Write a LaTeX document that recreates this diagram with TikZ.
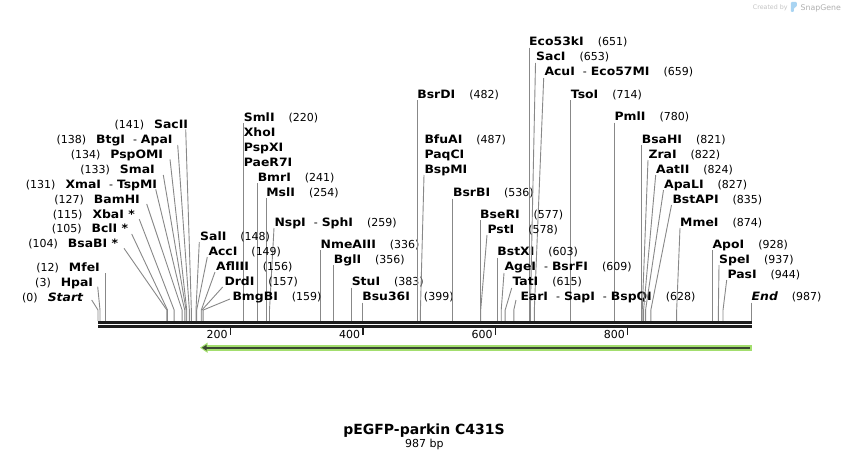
\documentclass[tikz,border=0pt]{standalone}
\usepackage{fontspec}
\setmainfont{DejaVu Sans}
\newfontfamily\nmfont[FakeStretch=1.08]{DejaVu Sans Bold}
\newfontfamily\nmitfont[FakeStretch=1.08]{DejaVu Sans Bold Oblique}
\newfontfamily\ttlfont{DejaVu Sans Bold}
\usetikzlibrary{arrows.meta}
\definecolor{linegray}{HTML}{888888}
\definecolor{bardark}{HTML}{1E1E1E}
\definecolor{featgreen}{HTML}{A3DE6E}
\definecolor{featdark}{HTML}{3A4632}
\definecolor{wmgray}{HTML}{C4C4C4}
\definecolor{wmblue}{HTML}{A9D4F2}
\newcommand\nm[1]{{\nmfont\fontsize{11.5}{13}\selectfont #1}}
\newcommand\nmi[1]{{\nmitfont\fontsize{11.5}{13}\selectfont #1}}
\newcommand\ps[1]{{\fontsize{11}{13}\selectfont #1}}
\newcommand\gapR{\hspace{14pt}}
\newcommand\gapL{\hspace{10pt}}
\newcommand\sepd{\hspace{8pt}\ps{-}\hspace{4pt}}
\newcommand\sx[1]{98+#1*0.6621}
\tikzset{
  cutline/.style={draw=linegray, line width=0.9pt},
  lblR/.style={anchor=base west, inner sep=0pt},
  lblL/.style={anchor=base east, inner sep=0pt},
}
% vertical connector: name, pos, ycenter, text
\newcommand\vsite[4]{%
  \node[lblR] (#1) at ({\sx{#2}},#3+4) {#4};
  \coordinate (#1-a) at ({\sx{#2}},#3+6);
  \coordinate (#1-s) at ({\sx{#2}},321);
  \draw[cutline] (#1-a) -- (#1-s);}
% slanted connector, label to the right: name,pos,leftx,yc,ax,ay,text
\newcommand\rsite[7]{%
  \node[lblR] (#1) at (#3,#4+4) {#7};
  \coordinate (#1-a) at (#5,#6);
  \coordinate (#1-k) at ({\sx{#2}},310);
  \coordinate (#1-s) at ({\sx{#2}},321);
  \draw[cutline] (#1-a) -- (#1-k) -- (#1-s);}
% slanted connector, label to the left: name,pos,rightx,yc,ax,ay,text
\newcommand\lsite[7]{%
  \node[lblL] (#1) at (#3,#4+4) {#7};
  \coordinate (#1-a) at (#5,#6);
  \coordinate (#1-k) at ({\sx{#2}},310);
  \coordinate (#1-s) at ({\sx{#2}},321);
  \draw[cutline] (#1-a) -- (#1-k) -- (#1-s);}
\begin{document}
\begin{tikzpicture}[x=1pt,y=-1pt]
\useasboundingbox (0,0) rectangle (850,460);
\fill[white] (0,0) rectangle (850,460);

% ---- left-side labels
\lsite{sacii}{141}{188.3}{124}{185.7}{129.3}{\ps{(141)}\gapL\nm{SacII}}
\lsite{btgi}{138}{172.7}{139}{177.7}{145}{\ps{(138)}\gapL\nm{BtgI}\sepd\nm{ApaI}}
\lsite{pspomi}{134}{163.3}{154}{170}{159.3}{\ps{(134)}\gapL\nm{PspOMI}}
\lsite{smai}{133}{155}{169}{163.3}{175}{\ps{(133)}\gapL\nm{SmaI}}
\lsite{xmai}{131}{157.3}{184}{155.7}{189.3}{\ps{(131)}\gapL\nm{XmaI}\sepd\nm{TspMI}}
\lsite{bamhi}{127}{140}{199}{146.7}{204}{\ps{(127)}\gapL\nm{BamHI}}
\lsite{xbai}{115}{135}{214}{139.3}{219.3}{\ps{(115)}\gapL\nm{XbaI *}}
\lsite{bcli}{105}{128.3}{228}{131.7}{234}{\ps{(105)}\gapL\nm{BclI *}}
\lsite{bsabi}{104}{118.3}{243}{124}{248.3}{\ps{(104)}\gapL\nm{BsaBI *}}
\node[lblL] (mfei) at (100,271) {\ps{(12)}\gapL\nm{MfeI}};
\coordinate (mfei-a) at ({\sx{12}},273);
\coordinate (mfei-s) at ({\sx{12}},321);
\draw[cutline] (mfei-a) -- (mfei-s);
\lsite{hpai}{3}{93.3}{282}{97.7}{286.7}{\ps{(3)}\gapL\nm{HpaI}}
\lsite{start}{0}{83.3}{297}{91.7}{300}{\ps{(0)}\gapL\nmi{Start}}

% ---- right-side labels, vertical connectors
\vsite{smli}{220}{117}{\nm{SmlI}\gapR\ps{(220)}}
\node[lblR] (xhoi) at ({\sx{220}},136) {\nm{XhoI}};
\node[lblR] (pspxi) at ({\sx{220}},151) {\nm{PspXI}};
\node[lblR] (paer7i) at ({\sx{220}},166) {\nm{PaeR7I}};
\draw[cutline] ({\sx{220}},168) -- (smli-s);
\vsite{bmri}{241}{177}{\nm{BmrI}\gapR\ps{(241)}}
\vsite{msli}{254}{192}{\nm{MslI}\gapR\ps{(254)}}
\vsite{nmeaiii}{336}{244}{\nm{NmeAIII}\gapR\ps{(336)}}
\vsite{bgli}{356}{259}{\nm{BglI}\gapR\ps{(356)}}
\vsite{stui}{383}{281.7}{\nm{StuI}\gapR\ps{(383)}}
\vsite{bsu36i}{399}{296.7}{\nm{Bsu36I}\gapR\ps{(399)}}
\vsite{eco53ki}{651}{41.7}{\nm{Eco53kI}\gapR\ps{(651)}}
\vsite{bsrdi}{482}{94}{\nm{BsrDI}\gapR\ps{(482)}}
\vsite{tsoi}{714}{94}{\nm{TsoI}\gapR\ps{(714)}}
\vsite{bsrbi}{536}{192.7}{\nm{BsrBI}\gapR\ps{(536)}}
\vsite{bseri}{577}{214}{\nm{BseRI}\gapR\ps{(577)}}
\vsite{bstxi}{603}{251.7}{\nm{BstXI}\gapR\ps{(603)}}
\vsite{pmli}{780}{116.7}{\nm{PmlI}\gapR\ps{(780)}}
\vsite{bsahi}{821}{139}{\nm{BsaHI}\gapR\ps{(821)}}
\vsite{apoi}{928}{244}{\nm{ApoI}\gapR\ps{(928)}}
\vsite{endl}{987}{296.7}{\nmi{End}\gapR\ps{(987)}}

% ---- right-side labels, slanted connectors
\rsite{nspi}{259}{274.3}{222}{274}{228}{\nm{NspI}\sepd\nm{SphI}\gapR\ps{(259)}}
\rsite{sali}{148}{200}{236.7}{199.3}{242}{\nm{SalI}\gapR\ps{(148)}}
\rsite{acci}{149}{208.3}{251.7}{207.3}{257}{\nm{AccI}\gapR\ps{(149)}}
\rsite{afliii}{156}{216}{266.7}{215}{272}{\nm{AflIII}\gapR\ps{(156)}}
\rsite{drdi}{157}{224.3}{281.7}{222.7}{287}{\nm{DrdI}\gapR\ps{(157)}}
\rsite{bmgbi}{159}{232.3}{296.7}{230}{299}{\nm{BmgBI}\gapR\ps{(159)}}
\rsite{saci}{653}{536}{56.7}{535.5}{63}{\nm{SacI}\gapR\ps{(653)}}
\rsite{acui}{659}{544.3}{71.7}{543.7}{78}{\nm{AcuI}\sepd\nm{Eco57MI}\gapR\ps{(659)}}
\rsite{bfuai}{487}{424.3}{139}{424}{175}{\nm{BfuAI}\gapR\ps{(487)}}
\node[lblR] (paqci) at (424.3,158) {\nm{PaqCI}};
\node[lblR] (bspmi) at (424.3,173) {\nm{BspMI}};
\rsite{psti}{578}{487.3}{229}{487}{235}{\nm{PstI}\gapR\ps{(578)}}
\rsite{agei}{609}{504.3}{266.7}{504}{273}{\nm{AgeI}\sepd\nm{BsrFI}\gapR\ps{(609)}}
\rsite{tati}{615}{512.3}{281.7}{511.7}{288}{\nm{TatI}\gapR\ps{(615)}}
\rsite{eari}{628}{520.3}{296.7}{516}{300}{\nm{EarI}\sepd\nm{SapI}\sepd\nm{BspQI}\gapR\ps{(628)}}
\rsite{zrai}{822}{648.3}{154}{648}{160}{\nm{ZraI}\gapR\ps{(822)}}
\rsite{aatii}{824}{656}{169}{655.7}{175}{\nm{AatII}\gapR\ps{(824)}}
\rsite{apali}{827}{664}{184}{663.5}{190}{\nm{ApaLI}\gapR\ps{(827)}}
\rsite{bstapi}{835}{672.3}{199}{671.5}{205}{\nm{BstAPI}\gapR\ps{(835)}}
\rsite{mmei}{874}{680}{222}{680}{228}{\nm{MmeI}\gapR\ps{(874)}}
\rsite{spei}{937}{719}{259}{719}{265}{\nm{SpeI}\gapR\ps{(937)}}
\rsite{pasi}{944}{727.3}{274}{726.7}{280}{\nm{PasI}\gapR\ps{(944)}}

% ---- sequence bar
\coordinate (bar0) at ({\sx{0}},322.4);
\coordinate (bar1) at ({\sx{987}},322.4);
\coordinate (barb0) at ({\sx{0}},326.5);
\coordinate (barb1) at ({\sx{987}},326.5);
\draw[bardark, line width=2.7pt] (bar0) -- (bar1);
\draw[bardark, line width=2.5pt] (barb0) -- (barb1);
\foreach \t in {200,400,600,800}{
  \coordinate (tk\t) at ({\sx{\t}},327.5);
  \coordinate (tkb\t) at ({\sx{\t}},335);
  \draw[bardark, line width=1.5pt] (tk\t) -- (tkb\t);
  \node[lblL] (tl\t) at ({\sx{\t}-2.5},338) {\ps{\t}};
}

% ---- feature arrow
\coordinate (fR) at ({\sx{987}},347.7);
\coordinate (fL) at (205,347.7);
\coordinate (fTip) at (200,347.7);
\draw[featgreen, line width=5.6pt] (fR) -- (fL);
\fill[featgreen] (fTip) -- (207.5,342.6) -- (207.5,352.8) -- cycle;
\draw[featdark, line width=2pt] ({\sx{987}-1.5},347.7) -- (205,347.7);
\fill[featdark] (202,347.7) -- (206.5,344.8) -- (206.5,350.6) -- cycle;

% ---- title
\node[anchor=base, inner sep=0pt, font=\ttlfont\fontsize{14}{16}\selectfont] (title) at (424,434) {pEGFP-parkin C431S};
\node[anchor=base, inner sep=0pt, font=\fontsize{11}{13}\selectfont] (size) at (424.3,447.3) {987 bp};

% ---- watermark
\node[anchor=base west, inner sep=0pt, text=wmgray, font=\fontsize{6.3}{7}\selectfont] (wm1) at (752.7,9.3) {Created by};
\fill[wmblue, rounded corners=1pt] (790.8,2) -- (796.8,2) -- (796.8,6.5) -- (793.8,8) -- (793.8,12) -- (790.8,12) -- cycle;
\node[anchor=base west, inner sep=0pt, text=wmgray!90!black, font=\fontsize{7.8}{9}\selectfont] (wm2) at (800.5,10.2) {SnapGene};
\end{tikzpicture}
\end{document}
